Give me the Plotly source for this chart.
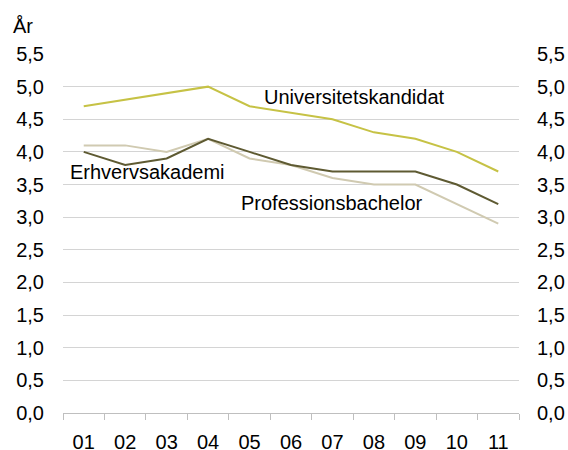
import plotly.graph_objects as go

years = ['01', '02', '03', '04', '05', '06', '07', '08', '09', '10', '11']
universitetskandidat = [4.7, 4.8, 4.9, 5.0, 4.7, 4.6, 4.5, 4.3, 4.2, 4.0, 3.7]
erhvervsakademi = [4.0, 3.8, 3.9, 4.2, 4.0, 3.8, 3.7, 3.7, 3.7, 3.5, 3.2]
professionsbachelor = [4.1, 4.1, 4.0, 4.2, 3.9, 3.8, 3.6, 3.5, 3.5, 3.2, 2.9]

col_univ = '#C6C245'
col_erhv = '#5E5A32'
col_prof = '#D0CAB1'
font = 'Liberation Sans, Arial, sans-serif'

fig = go.Figure()
fig.add_trace(go.Scatter(x=years, y=professionsbachelor, mode='lines',
                         line=dict(color=col_prof, width=2), name='Professionsbachelor'))
fig.add_trace(go.Scatter(x=years, y=erhvervsakademi, mode='lines',
                         line=dict(color=col_erhv, width=2), name='Erhvervsakademi'))
fig.add_trace(go.Scatter(x=years, y=universitetskandidat, mode='lines',
                         line=dict(color=col_univ, width=2), name='Universitetskandidat'))
# dummy trace so the right axis gets drawn
fig.add_trace(go.Scatter(x=years, y=universitetskandidat, yaxis='y2', mode='lines',
                         line=dict(color='rgba(0,0,0,0)'), hoverinfo='skip', showlegend=False))

yax = dict(range=[0, 5.5], dtick=0.5, tickformat='.1f', showgrid=True,
           gridcolor='#D4D4D4', gridwidth=1, zeroline=False, showline=False,
           ticks='outside', ticklen=14, tickcolor='rgba(0,0,0,0)', automargin=False,
           tickfont=dict(size=20, color='black', family=font))

fig.update_layout(
    width=568, height=450,
    margin=dict(l=63, r=49, t=54, b=37),
    paper_bgcolor='white', plot_bgcolor='white',
    showlegend=False,
    separators=', ',
    font=dict(family=font, size=20, color='black'),
    xaxis=dict(type='category', range=[-0.5, 10.5], tickson='boundaries',
               ticks='outside', ticklen=6, tickcolor='#BFBFBF', showline=True,
               linecolor='#BFBFBF', linewidth=1, showgrid=False, automargin=False,
               ticklabelstandoff=11,
               tickfont=dict(size=20, color='black', family=font)),
    yaxis=yax,
    yaxis2=dict(yax, overlaying='y', side='right', showgrid=False, ticklen=13),
    annotations=[
        dict(text='År', xref='paper', yref='paper', x=-0.113, y=1.0785,
             xanchor='left', yanchor='middle', showarrow=False),
        dict(text='Universitetskandidat', xref='paper', yref='y', x=0.436, y=4.84,
             xanchor='left', yanchor='middle', showarrow=False),
        dict(text='Erhvervsakademi', xref='paper', yref='y', x=0.010, y=3.69,
             xanchor='left', yanchor='middle', showarrow=False),
        dict(text='Professionsbachelor', xref='paper', yref='y', x=0.387, y=3.22,
             xanchor='left', yanchor='middle', showarrow=False),
    ],
)

# drop the default body margin so the figure fills the window
fig.write_html('out.html', config={'displayModeBar': False},
               post_script="document.body.style.margin='0';document.body.style.overflow='hidden';")
